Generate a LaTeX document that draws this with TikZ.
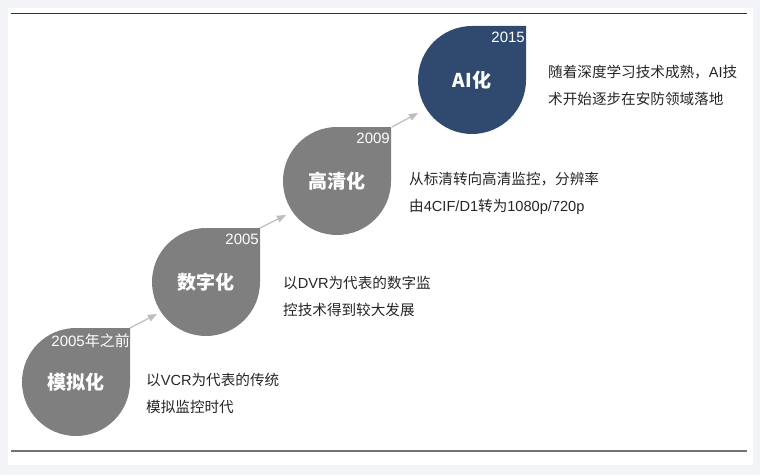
\documentclass[tikz,border=0pt]{standalone}
\usepackage{fontspec}
\setmainfont{Liberation Sans}
\newfontfamily\cjk{Noto Sans CJK SC}
\usetikzlibrary{arrows.meta}
\definecolor{bgc}{HTML}{F3F4F7}
\definecolor{dropgray}{HTML}{7F7F7F}
\definecolor{dropnavy}{HTML}{2F4A6E}
\definecolor{arrowc}{HTML}{BDBDBD}
\definecolor{txtc}{HTML}{262626}
\tikzset{
  dropshape/.style={fill=dropgray, draw=none},
  dropai/.style={fill=dropnavy, draw=none},
  droplabel/.style={text=white, font=\cjk\bfseries\fontsize{19}{21}\selectfont, inner sep=0pt},
  yearlabel/.style={text=white, font=\fontsize{15}{16}\selectfont, inner sep=0pt, anchor=north east},
  desc/.style={text=txtc, font=\fontsize{14.6}{27}\selectfont, align=left, anchor=west, inner sep=0pt},
  steparrow/.style={draw=arrowc, line width=1.2pt, -{Triangle[length=9pt,width=7pt]}},
}
\newcommand{\dropat}[2]{% style, center
  \path[#1] (#2) ++(0,54) -- ++(54,0) -- ++(0,-54) arc[start angle=0, end angle=-270, radius=54] -- cycle;
}
\begin{document}
\begin{tikzpicture}[x=1pt,y=1pt]
\useasboundingbox (0,0) rectangle (760,475);
\fill[bgc] (0,0) rectangle (760,475);
\fill[white] (8,10) rectangle (753,467);
\draw[color=black!80, line width=1.3pt] (11,461.5) -- (747,461.5);
\draw[color=black!55, line width=2.6pt] (11,24) -- (747,24);

% centers
\coordinate (c1) at (76,93);
\coordinate (c2) at (206,193);
\coordinate (c3) at (337,294);
\coordinate (c4) at (472,395);
% corners
\coordinate (k1) at (130,147);
\coordinate (k2) at (260,247);
\coordinate (k3) at (392,348);
% arrow tips
\coordinate (t1) at (157,161);
\coordinate (t2) at (286,260);
\coordinate (t3) at (418,362);

\dropat{dropshape}{c1}
\dropat{dropshape}{c2}
\dropat{dropshape}{c3}
\dropat{dropai}{c4}

\node[droplabel] (n1) at (c1) {模拟化};
\node[droplabel] (n2) at (c2) {数字化};
\node[droplabel] (n3) at (c3) {高清化};
\node[droplabel] (n4) at (c4) {AI{\cjk\bfseries 化}};

\node[yearlabel] (y1) at (130,141) {2005{\cjk 年之前}};
\node[yearlabel] (y2) at (259,241) {2005};
\node[yearlabel] (y3) at (390,342) {2009};
\node[yearlabel] (y4) at (525,443) {2015};

\draw[steparrow] (k1) -- (t1);
\draw[steparrow] (k2) -- (t2);
\draw[steparrow] (k3) -- (t3);

\node[desc] (d1) at (146,82) {{\cjk 以}VCR{\cjk 为代表的传统}\\{\cjk 模拟监控时代}};
\node[desc] (d2) at (283,179) {{\cjk 以}DVR{\cjk 为代表的数字监}\\{\cjk 控技术得到较大发展}};
\node[desc] (d3) at (409,282) {{\cjk 从标清转向高清监控，分辨率}\\{\cjk 由}4CIF/D1{\cjk 转为}1080p/720p};
\node[desc] (d4) at (548,390) {{\cjk 随着深度学习技术成熟，}AI{\cjk 技}\\{\cjk 术开始逐步在安防领域落地}};
\end{tikzpicture}
\end{document}
